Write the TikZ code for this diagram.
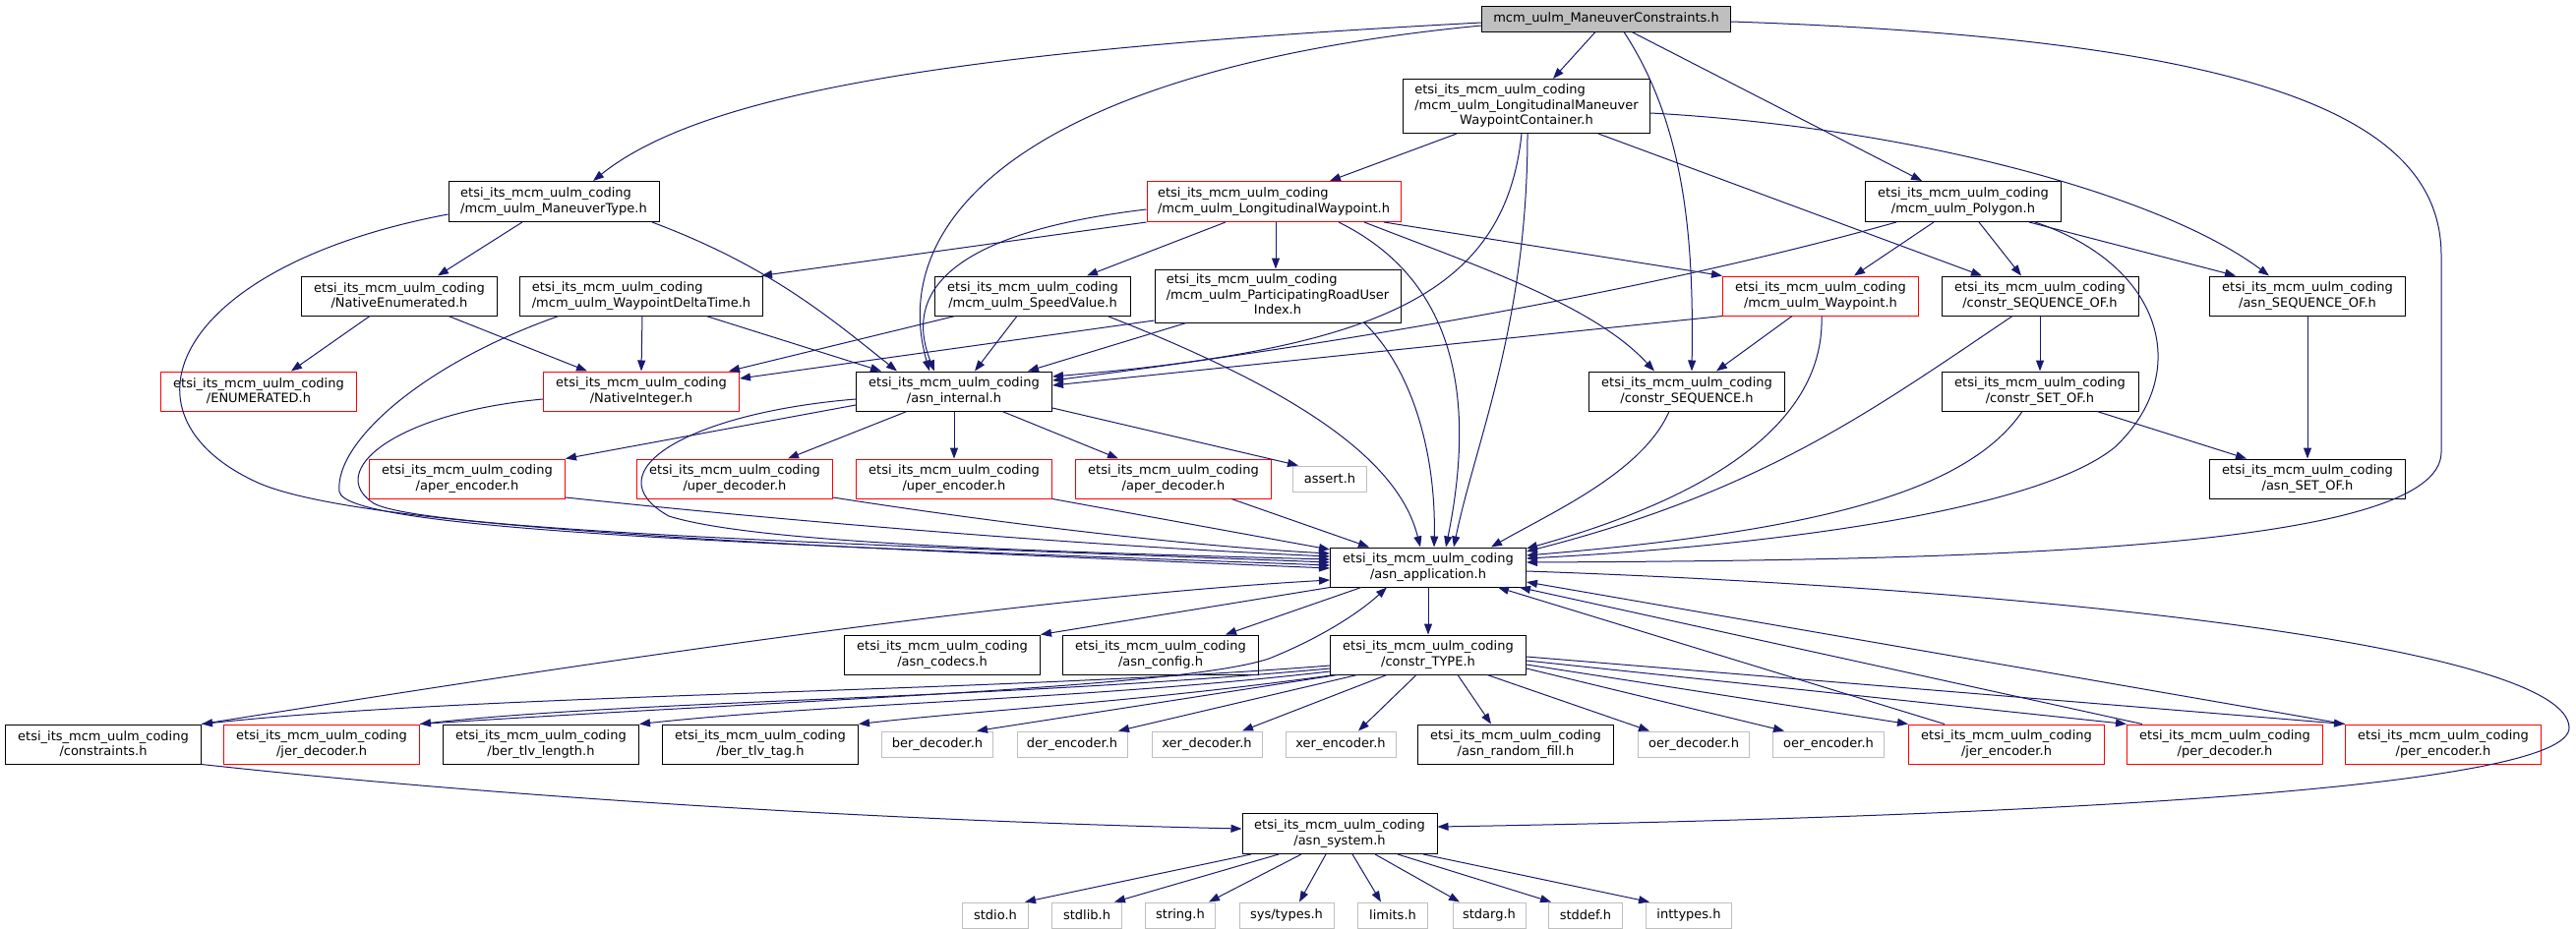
\documentclass[tikz,border=0pt]{standalone}
\usepackage{fontspec}
\newfontfamily\dxfont{DejaVu Sans}
\newcommand\dxlbl{\dxfont\fontsize{13}{15.2}\selectfont}
\newcommand\dxpfx{etsi\_its\_mcm\_uulm\_coding}
\usetikzlibrary{arrows.meta}
\definecolor{edgeblue}{HTML}{191970}
\definecolor{boxgray}{HTML}{BFBFBF}
\tikzset{
  box/.style={draw=black, line width=1pt, fill=white, inner sep=0pt, font=\dxlbl,
    minimum width=199pt, minimum height=40pt, align=center},
  redbox/.style={box, draw=red},
  graybox/.style={box, draw=boxgray, minimum height=26pt},
  lnk/.style={draw=edgeblue, line width=1pt, -{Triangle[length=11pt,width=8pt]}},
}
\begin{document}
\begin{tikzpicture}[x=1pt,y=-1pt]
\useasboundingbox (0,0) rectangle (2619,945);
\fill[white] (0,0) rectangle (2619,945);
% ---------- nodes ----------
\node[box, fill=boxgray, minimum width=253pt, minimum height=26pt] (MC) at (1633,19) {mcm\_uulm\_ManeuverConstraints.h};
\node[box, minimum width=251pt, minimum height=55pt] (C) at (1552,108) {\begin{tabular}{@{}l@{}}\dxpfx\\/mcm\_uulm\_LongitudinalManeuver\\\multicolumn{1}{@{}c@{}}{WaypointContainer.h}\end{tabular}};
\node[box, align=left, minimum width=214pt, minimum height=41pt] (MT) at (563,205) {\dxpfx\\/mcm\_uulm\_ManeuverType.h};
\node[redbox, align=left, minimum width=258pt, minimum height=41pt] (LW) at (1295,205) {\dxpfx\\/mcm\_uulm\_LongitudinalWaypoint.h};
\node[box, minimum height=41pt] (P) at (1996,205) {\dxpfx\\/mcm\_uulm\_Polygon.h};
\node[box] (NE) at (406,301) {\dxpfx\\/NativeEnumerated.h};
\node[box, align=left, minimum width=247pt] (WDT) at (652,301) {\dxpfx\\/mcm\_uulm\_WaypointDeltaTime.h};
\node[box] (SV) at (1050,301) {\dxpfx\\/mcm\_uulm\_SpeedValue.h};
\node[box, minimum width=250pt, minimum height=54pt] (PRUI) at (1299,301) {\begin{tabular}{@{}l@{}}\dxpfx\\/mcm\_uulm\_ParticipatingRoadUser\\\multicolumn{1}{@{}c@{}}{Index.h}\end{tabular}};
\node[redbox] (W) at (1851,301) {\dxpfx\\/mcm\_uulm\_Waypoint.h};
\node[box, minimum width=200pt] (CSO) at (2074,301) {\dxpfx\\/constr\_SEQUENCE\_OF.h};
\node[box] (ASO) at (2346,301) {\dxpfx\\/asn\_SEQUENCE\_OF.h};
\node[redbox] (ENUM) at (263,398) {\dxpfx\\/ENUMERATED.h};
\node[redbox] (NI) at (652,398) {\dxpfx\\/NativeInteger.h};
\node[box] (AI) at (970,398) {\dxpfx\\/asn\_internal.h};
\node[box] (CS) at (1715,398) {\dxpfx\\/constr\_SEQUENCE.h};
\node[box, minimum width=200pt] (CSetOf) at (2074,398) {\dxpfx\\/constr\_SET\_OF.h};
\node[redbox] (AE) at (475,487) {\dxpfx\\/aper\_encoder.h};
\node[redbox] (UD) at (747,487) {\dxpfx\\/uper\_decoder.h};
\node[redbox] (UE) at (970,487) {\dxpfx\\/uper\_encoder.h};
\node[redbox] (AD) at (1193,487) {\dxpfx\\/aper\_decoder.h};
\node[graybox, minimum width=75pt] (assert) at (1352,487) {assert.h};
\node[box] (ASetOf) at (2346,487) {\dxpfx\\/asn\_SET\_OF.h};
\node[box] (AA) at (1452,577) {\dxpfx\\/asn\_application.h};
\node[box] (codecs) at (958,666) {\dxpfx\\/asn\_codecs.h};
\node[box] (config) at (1180,666) {\dxpfx\\/asn\_config.h};
\node[box] (CT) at (1452,666) {\dxpfx\\/constr\_TYPE.h};
\node[box] (constraints) at (105,757) {\dxpfx\\/constraints.h};
\node[redbox] (JD) at (327,757) {\dxpfx\\/jer\_decoder.h};
\node[box] (BTL) at (550,757) {\dxpfx\\/ber\_tlv\_length.h};
\node[box] (BTT) at (773,757) {\dxpfx\\/ber\_tlv\_tag.h};
\node[graybox, minimum width=113pt] (berdec) at (953,757) {ber\_decoder.h};
\node[graybox, minimum width=112pt] (derenc) at (1090,757) {der\_encoder.h};
\node[graybox, minimum width=112pt] (xerdec) at (1227,757) {xer\_decoder.h};
\node[graybox, minimum width=112pt] (xerenc) at (1363,757) {xer\_encoder.h};
\node[box] (ARF) at (1541,757) {\dxpfx\\/asn\_random\_fill.h};
\node[graybox, minimum width=113pt] (oerdec) at (1722,757) {oer\_decoder.h};
\node[graybox, minimum width=113pt] (oerenc) at (1859,757) {oer\_encoder.h};
\node[redbox] (JE) at (2040,757) {\dxpfx\\/jer\_encoder.h};
\node[redbox] (PD) at (2262,757) {\dxpfx\\/per\_decoder.h};
\node[redbox] (PE) at (2484,757) {\dxpfx\\/per\_encoder.h};
\node[box, minimum height=41pt, minimum width=198pt] (AS) at (1362,848) {\dxpfx\\/asn\_system.h};
\node[graybox, minimum width=67pt] (stdio) at (1012,931) {stdio.h};
\node[graybox, minimum width=71pt] (stdlib) at (1105,931) {stdlib.h};
\node[graybox, minimum width=71pt] (string) at (1200,931) {string.h};
\node[graybox, minimum width=96pt] (systypes) at (1308,931) {sys/types.h};
\node[graybox, minimum width=71pt] (limits) at (1416,931) {limits.h};
\node[graybox, minimum width=74pt] (stdarg) at (1514,931) {stdarg.h};
\node[graybox, minimum width=75pt] (stddef) at (1612,931) {stddef.h};
\node[graybox, minimum width=87pt] (inttypes) at (1717,931) {inttypes.h};
% ---------- edges from MC ----------
\draw[lnk] ([yshift=-4pt]MC.west) .. controls (1000,50) and (720,90) .. ([xshift=40pt]MT.north);
\draw[lnk] ([yshift=-7pt]MC.west) .. controls (1050,70) and (900,220) .. ([xshift=-25pt]AI.north);
\draw[lnk] ([xshift=-11pt]MC.south) -- ([xshift=27pt]C.north);
\draw[lnk] ([xshift=18pt]MC.south) .. controls (1715,130) and (1722,250) .. ([xshift=5pt]CS.north);
\draw[lnk] ([xshift=26pt]MC.south) -- ([xshift=-42pt]P.north);
\draw[lnk] ([yshift=-3pt]MC.east) .. controls (2300,40) and (2482,120) .. (2482,260) -- (2482,460) .. controls (2482,560) and (2000,570) .. ([yshift=5pt]AA.east);
% ---------- edges from C ----------
\draw[lnk] ([xshift=-71pt]C.south) -- ([xshift=57pt]LW.north);
\draw[lnk] ([xshift=-5pt]C.south) .. controls (1530,300) and (1400,355) .. ([yshift=15pt]AI.east);
\draw[lnk] ([xshift=1pt]C.south) .. controls (1553,330) and (1500,450) .. ([xshift=26pt]AA.north);
\draw[lnk] ([xshift=73pt]C.south) -- ([xshift=-59pt]CSO.north);
\draw[lnk] ([yshift=-7pt]C.east) .. controls (1950,130) and (2200,200) .. ([xshift=-39pt]ASO.north);
% ---------- edges from LW ----------
\draw[lnk] (LW.south west) -- ([xshift=-2pt]WDT.north east);
\draw[lnk] ([yshift=-8pt]LW.west) .. controls (980,235) and (915,290) .. ([xshift=-20pt]AI.north);
\draw[lnk] ([xshift=-49pt]LW.south) -- ([xshift=55pt]SV.north);
\draw[lnk] ([xshift=2pt]LW.south) -- ([xshift=-2pt]PRUI.north);
\draw[lnk] ([xshift=66pt]LW.south) .. controls (1450,270) and (1510,360) .. ([xshift=18pt]AA.north);
\draw[lnk] ([xshift=92pt]LW.south) .. controls (1500,270) and (1620,310) .. ([xshift=-33pt]CS.north);
\draw[lnk] ([xshift=112pt]LW.south) -- (W.north west);
% ---------- edges from MT ----------
\draw[lnk] ([xshift=-32pt]MT.south) -- ([xshift=39pt]NE.north);
\draw[lnk] ([xshift=100pt]MT.south) .. controls (780,270) and (840,320) .. ([xshift=-58pt]AI.north);
\draw[lnk] ([yshift=-13pt]MT.west) .. controls (180,270) and (110,420) .. (260,490) .. controls (360,537) and (800,555) .. ([yshift=-1pt]AA.west);
% ---------- edges from P ----------
\draw[lnk] ([xshift=-68pt]P.south) .. controls (1700,290) and (1400,345) .. ([yshift=11pt]AI.east);
\draw[lnk] ([xshift=-30pt]P.south) -- ([xshift=34pt]W.north);
\draw[lnk] ([xshift=16pt]P.south) -- ([xshift=-19pt]CSO.north);
\draw[lnk] ([xshift=67pt]P.south) -- ([xshift=-73pt]ASO.north);
\draw[lnk] ([xshift=73pt]P.south) .. controls (2200,270) and (2230,380) .. (2150,455) .. controls (2070,520) and (1800,555) .. ([yshift=9pt]AA.east);
% ---------- row 3 ----------
\draw[lnk] ([xshift=-30pt]NE.south) -- ([xshift=33pt]ENUM.north);
\draw[lnk] ([xshift=50pt]NE.south) -- ([xshift=-55pt]NI.north);
\draw[lnk] ([xshift=1pt]WDT.south) -- (NI.north);
\draw[lnk] ([xshift=66pt]WDT.south) -- ([xshift=-74pt]AI.north);
\draw[lnk] ([xshift=-84pt]WDT.south) .. controls (430,370) and (340,450) .. (345,500) .. controls (350,540) and (800,555) .. ([yshift=2pt]AA.west);
\draw[lnk] ([xshift=-79pt]SV.south) -- ([xshift=89pt]NI.north);
\draw[lnk] ([xshift=-16pt]SV.south) -- ([xshift=21pt]AI.north);
\draw[lnk] ([xshift=76pt]SV.south) .. controls (1300,390) and (1420,460) .. ([xshift=-8pt]AA.north);
\draw[lnk] ([yshift=-25pt]PRUI.west) -- ([yshift=13pt]NI.east);
\draw[lnk] ([xshift=-93pt]PRUI.south) -- ([xshift=75pt]AI.north);
\draw[lnk] ([xshift=88pt]PRUI.south) .. controls (1440,380) and (1460,470) .. ([xshift=6pt]AA.north);
\draw[lnk] ([xshift=-29pt]W.south) -- ([xshift=30pt]CS.north);
\draw[lnk] (W.south west) -- ([yshift=6pt]AI.east);
\draw[lnk] ([xshift=1pt]W.south) .. controls (1855,420) and (1760,500) .. ([yshift=19pt]AA.east);
\draw[lnk] (CSO.south) -- (CSetOf.north);
\draw[lnk] ([xshift=-28pt]CSO.south) .. controls (1900,420) and (1790,500) .. ([yshift=16pt]AA.east);
\draw[lnk] (ASO.south) -- (ASetOf.north);
% ---------- row 4 ----------
\draw[lnk] ([yshift=-8pt]NI.west) .. controls (400,420) and (330,480) .. (380,512) .. controls (430,540) and (900,555) .. ([yshift=5pt]AA.west);
\draw[lnk] ([yshift=-14pt]AI.west) -- (AE.north east);
\draw[lnk] ([xshift=-48pt]AI.south) -- ([xshift=54pt]UD.north);
\draw[lnk] (AI.south) -- (UE.north);
\draw[lnk] ([xshift=49pt]AI.south) -- ([xshift=-56pt]AD.north);
\draw[lnk] ([yshift=-17pt]AI.east) -- ([xshift=-32pt]assert.north);
\draw[lnk] ([yshift=-8pt]AI.west) .. controls (700,420) and (600,480) .. (680,525) .. controls (760,550) and (1000,560) .. ([yshift=8pt]AA.west);
\draw[lnk] ([xshift=-18pt]CS.south) .. controls (1670,480) and (1580,520) .. ([xshift=64pt]AA.north);
\draw[lnk] ([xshift=58pt]CSetOf.south) -- ([xshift=-62pt]ASetOf.north);
\draw[lnk] ([xshift=-18pt]CSetOf.south) .. controls (2000,500) and (1850,540) .. ([yshift=12pt]AA.east);
% ---------- row 5 ----------
\draw[lnk] ([yshift=-19pt]AE.east) .. controls (800,530) and (1100,555) .. ([yshift=11pt]AA.west);
\draw[lnk] ([yshift=-19pt]UD.east) .. controls (1000,530) and (1200,555) .. ([yshift=14pt]AA.west);
\draw[lnk] (UE.south east) -- ([yshift=18pt]AA.west);
\draw[lnk] ([xshift=59pt]AD.south) -- ([xshift=-60pt]AA.north);
% ---------- from AA ----------
\draw[lnk] (AA.south) -- (CT.north);
\draw[lnk] (AA.south west) -- (codecs.north east);
\draw[lnk] ([xshift=-68pt]AA.south) -- ([xshift=66pt]config.north);
\draw[lnk] ([yshift=-4pt]AA.east) .. controls (2100,600) and (2610,660) .. (2612,740) .. controls (2614,800) and (2100,830) .. ([yshift=7pt]AS.east);
% ---------- from CT ----------
\draw[lnk] ([yshift=-11pt]CT.west) .. controls (1000,705) and (500,705) .. (constraints.north east);
\draw[lnk] ([yshift=-14pt]CT.west) .. controls (1000,712) and (650,712) .. (JD.north east);
\draw[lnk] ([yshift=-17pt]CT.west) .. controls (1100,712) and (850,715) .. (BTL.north east);
\draw[lnk] ([xshift=-95pt]CT.south) .. controls (1150,715) and (1000,722) .. (BTT.north east);
\draw[lnk] ([xshift=-92pt]CT.south) -- ([xshift=40pt]berdec.north);
\draw[lnk] ([xshift=-72pt]CT.south) -- ([xshift=47pt]derenc.north);
\draw[lnk] ([xshift=-42pt]CT.south) -- ([xshift=36pt]xerdec.north);
\draw[lnk] ([xshift=-12pt]CT.south) -- ([xshift=18pt]xerenc.north);
\draw[lnk] ([xshift=30pt]CT.south) -- ([xshift=-25pt]ARF.north);
\draw[lnk] ([xshift=60pt]CT.south) -- ([xshift=-45pt]oerdec.north);
\draw[lnk] ([yshift=-14pt]CT.east) -- ([xshift=-45pt]oerenc.north);
\draw[lnk] ([yshift=-10pt]CT.east) -- (JE.north west);
\draw[lnk] ([yshift=-6pt]CT.east) -- (PD.north west);
\draw[lnk] ([yshift=-2pt]CT.east) -- (PE.north west);
% ---------- back to AA ----------
\draw[lnk] (constraints.north east) .. controls (500,690) and (1000,610) .. ([yshift=-13pt]AA.west);
\draw[lnk] (JD.north east) .. controls (800,712) and (1200,700) .. (1290,670) .. controls (1340,650) and (1380,625) .. ([xshift=-42pt]AA.south);
\draw[lnk] ([xshift=-63pt]JE.north) -- ([xshift=71pt]AA.south);
\draw[lnk] ([xshift=-84pt]PD.north) -- ([xshift=93pt]AA.south);
\draw[lnk] (PE.north west) -- ([yshift=-15pt]AA.east);
% ---------- constraints / asn_system ----------
\draw[lnk] (constraints.south east) .. controls (500,810) and (900,835) .. ([yshift=5pt]AS.west);
\draw[lnk] ([xshift=-90pt]AS.south) -- ([xshift=30pt]stdio.north);
\draw[lnk] ([xshift=-62pt]AS.south) -- ([xshift=28pt]stdlib.north);
\draw[lnk] ([xshift=-39pt]AS.south) -- ([xshift=29pt]string.north);
\draw[lnk] ([xshift=-14pt]AS.south) -- ([xshift=13pt]systypes.north);
\draw[lnk] ([xshift=13pt]AS.south) -- ([xshift=-12pt]limits.north);
\draw[lnk] ([xshift=36pt]AS.south) -- ([xshift=-30pt]stdarg.north);
\draw[lnk] ([xshift=59pt]AS.south) -- ([xshift=-35pt]stddef.north);
\draw[lnk] ([xshift=85pt]AS.south) -- ([xshift=-40pt]inttypes.north);
\end{tikzpicture}
\end{document}
